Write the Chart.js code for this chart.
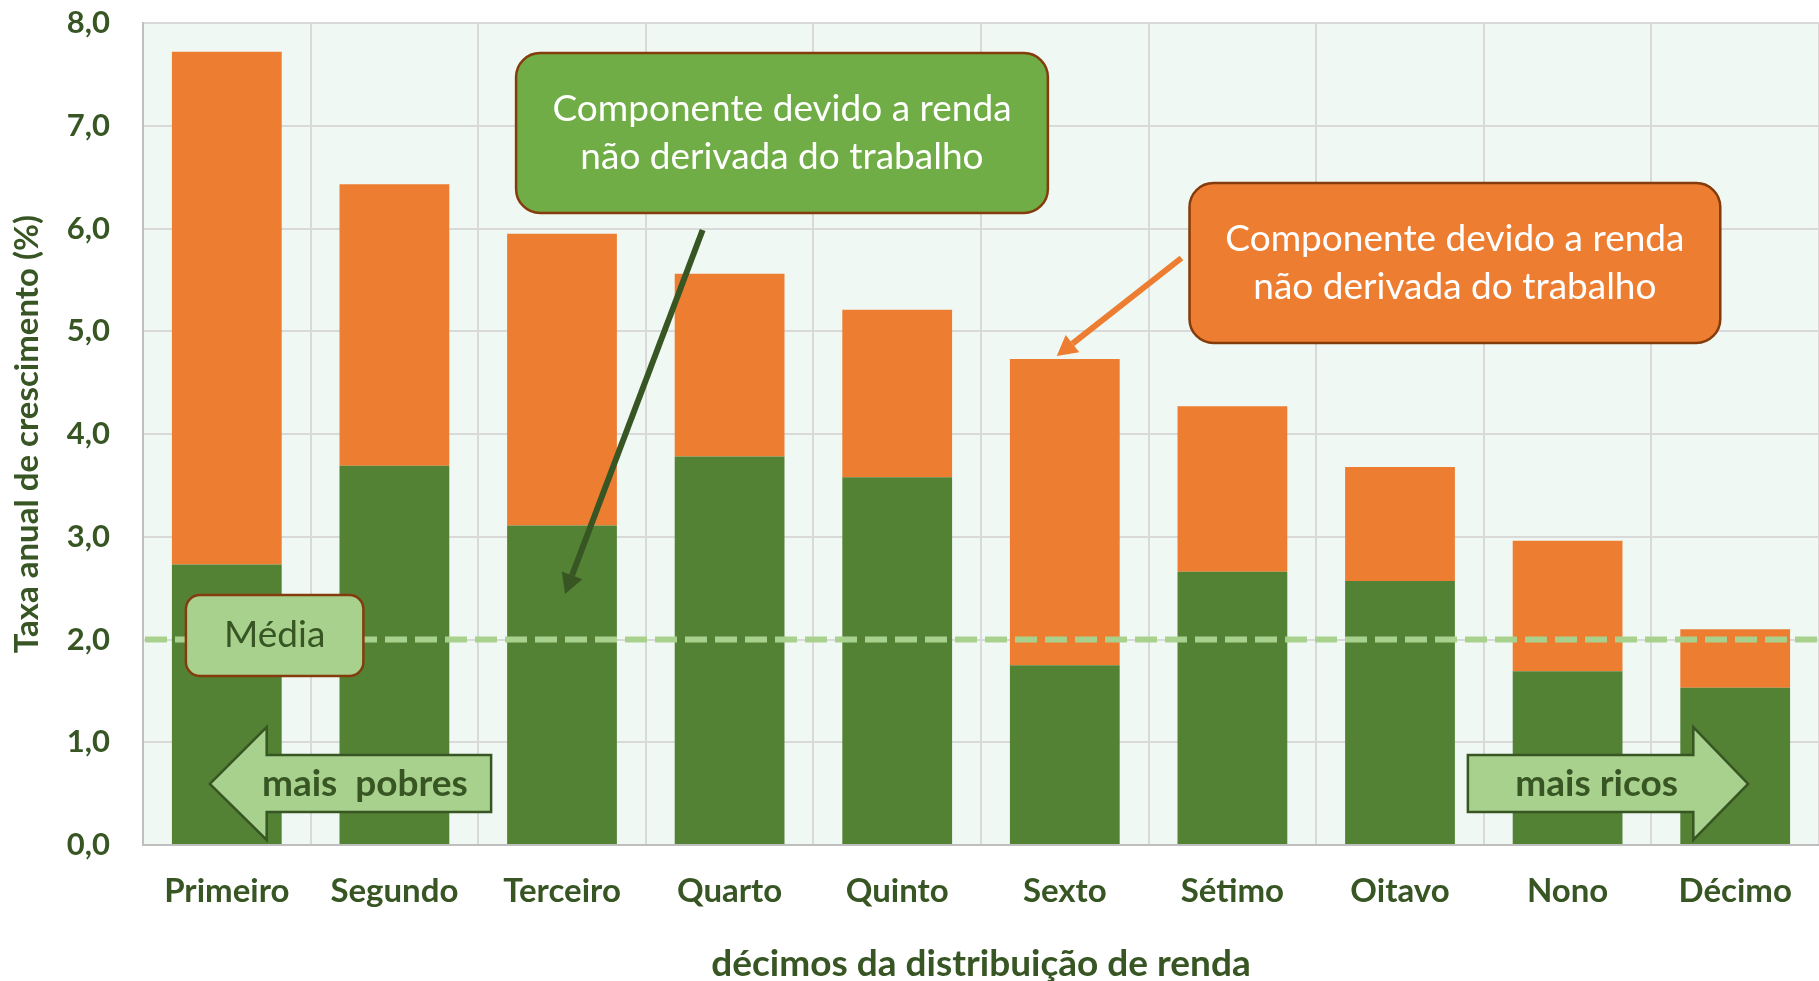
<!DOCTYPE html>
<html><head><meta charset="utf-8">
<script src="https://cdn.jsdelivr.net/npm/chart.js@4.4.0/dist/chart.umd.min.js"></script>
<style>html,body{margin:0;padding:0;background:#fff;overflow:hidden}#wrap{position:relative;width:1819px;height:981px}</style>
</head><body><div id="wrap"><canvas id="c" width="1819" height="981"></canvas></div>
<script>
// ---- data ----
const categories = ['Primeiro','Segundo','Terceiro','Quarto','Quinto','Sexto','Sétimo','Oitavo','Nono','Décimo'];
const laborComponent = [2.73,3.69,3.11,3.78,3.58,1.75,2.66,2.57,1.69,1.53];
const nonLaborComponent = [4.99,2.74,2.84,1.78,1.63,2.98,1.61,1.11,1.27,0.57];
const yTickValues = [0,1,2,3,4,5,6,7,8];
const yTickLabels = ['0,0','1,0','2,0','3,0','4,0','5,0','6,0','7,0','8,0'];
const mediaValue = [2.0];
const xTitle = 'décimos da distribuição de renda';
const yTitle = 'Taxa anual de crescimento (%)';
const calloutText = ['Componente devido a renda', 'não derivada do trabalho'];

// ---- styles ----
const FONT = 'Lato';
const DARK = '#375623';
const GREEN = '#548235';
const ORANGE = '#ED7D31';
const LIGHT = '#A9D18E';
const BROWN = '#843C0C';

// decoration anchors in data units (category index, value)
const deco = {
  greenBox: {x0:1.726, x1:4.899, y0:7.708, y1:6.151},
  orangeBox:{x0:5.744, x1:8.911, y0:6.443, y1:4.886},
  mediaBox: {x0:-0.244, x1:0.815, y0:2.433, y1:1.645},
  greenPtr: {x0:2.839, y0:5.985, x1:2.018, y1:2.443},
  orangePtr:{x0:5.696, y0:5.713, x1:4.952, y1:4.759},
  pobres: {tip:-0.101, base:0.238, end:1.577},
  ricos:  {tip:9.077, base:8.750, end:7.405},
  arrowY: {headTop:1.148, shaftTop:0.876, mid:0.594, shaftBot:0.321, headBot:0.049}
};

const decorPlugin = {
  id:'decor',
  beforeDraw(chart){
    const {ctx, chartArea:a} = chart;
    ctx.save();
    ctx.fillStyle = '#F0F8F3';
    ctx.fillRect(a.left, a.top, a.right-a.left, a.bottom-a.top);
    ctx.restore();
  },
  afterDatasetsDraw(chart){
    const {ctx, chartArea:a} = chart;
    const xs = chart.scales.x, ys = chart.scales.y;
    const X = v => xs.getPixelForValue(v);
    const Y = v => ys.getPixelForValue(v);
    ctx.save();
    // average dashed line
    ctx.strokeStyle = LIGHT; ctx.lineWidth = 6; ctx.setLineDash([22,8]);
    ctx.beginPath(); ctx.moveTo(a.left+2, Y(mediaValue[0])); ctx.lineTo(a.right, Y(mediaValue[0])); ctx.stroke();
    ctx.setLineDash([]);

    function box(b, fill, r){
      const x0=X(b.x0), x1=X(b.x1), y0=Y(b.y0), y1=Y(b.y1);
      ctx.beginPath(); ctx.roundRect(x0,y0,x1-x0,y1-y0,r);
      ctx.fillStyle=fill; ctx.fill();
      ctx.lineWidth=2.5; ctx.strokeStyle=BROWN; ctx.stroke();
      return {cx:(x0+x1)/2, cy:(y0+y1)/2};
    }
    function pointer(p, color){
      const x0=X(p.x0), y0=Y(p.y0), x1=X(p.x1), y1=Y(p.y1);
      const ang=Math.atan2(y1-y0,x1-x0), L=20, W=11;
      const bx=x1-L*Math.cos(ang), by=y1-L*Math.sin(ang);
      ctx.strokeStyle=color; ctx.lineWidth=6; ctx.lineCap='butt';
      ctx.beginPath(); ctx.moveTo(x0,y0); ctx.lineTo(bx,by); ctx.stroke();
      ctx.fillStyle=color; ctx.beginPath();
      ctx.moveTo(x1,y1);
      ctx.lineTo(bx+W*Math.sin(ang), by-W*Math.cos(ang));
      ctx.lineTo(bx-W*Math.sin(ang), by+W*Math.cos(ang));
      ctx.closePath(); ctx.fill();
    }
    function bigArrow(d, label, textCx){
      const A=deco.arrowY;
      ctx.beginPath();
      ctx.moveTo(X(d.tip), Y(A.mid));
      ctx.lineTo(X(d.base), Y(A.headTop));
      ctx.lineTo(X(d.base), Y(A.shaftTop));
      ctx.lineTo(X(d.end), Y(A.shaftTop));
      ctx.lineTo(X(d.end), Y(A.shaftBot));
      ctx.lineTo(X(d.base), Y(A.shaftBot));
      ctx.lineTo(X(d.base), Y(A.headBot));
      ctx.closePath();
      ctx.fillStyle=LIGHT; ctx.fill();
      ctx.strokeStyle=DARK; ctx.lineWidth=2.5; ctx.stroke();
      ctx.fillStyle=DARK; ctx.font='bold 37px '+FONT; ctx.textAlign='center'; ctx.textBaseline='middle';
      ctx.fillText(label, textCx, Y(A.mid));
    }

    // green callout + pointer
    const g = box(deco.greenBox, '#70AD47', 24);
    ctx.fillStyle='#FFFFFF'; ctx.font='37px '+FONT; ctx.textAlign='center'; ctx.textBaseline='middle';
    ctx.fillText(calloutText[0], g.cx, g.cy-24);
    ctx.fillText(calloutText[1], g.cx, g.cy+24);
    pointer(deco.greenPtr, DARK);

    // orange callout + pointer
    const o = box(deco.orangeBox, ORANGE, 24);
    ctx.fillStyle='#FFFFFF'; ctx.font='37px '+FONT;
    ctx.fillText(calloutText[0], o.cx, o.cy-24);
    ctx.fillText(calloutText[1], o.cx, o.cy+24);
    pointer(deco.orangePtr, ORANGE);

    // média box
    const m = box(deco.mediaBox, LIGHT, 14);
    ctx.fillStyle=DARK; ctx.font='37px '+FONT;
    ctx.fillText('Média', m.cx, m.cy);

    // big arrows
    bigArrow(deco.pobres, 'mais  pobres', (X(deco.pobres.base)+X(deco.pobres.end))/2 - 14);
    bigArrow(deco.ricos, 'mais ricos', (X(deco.ricos.base)+X(deco.ricos.end))/2 + 16);
    ctx.restore();
  }
};

new Chart(document.getElementById('c'), {
  type:'bar',
  data:{
    labels:categories,
    datasets:[
      {label:'Renda do trabalho', data:laborComponent, backgroundColor:GREEN, categoryPercentage:1, barPercentage:0.655},
      {label:'Renda não derivada do trabalho', data:nonLaborComponent, backgroundColor:ORANGE, categoryPercentage:1, barPercentage:0.655}
    ]
  },
  plugins:[decorPlugin],
  options:{
    responsive:false, animation:false, devicePixelRatio:1,
    layout:{padding:{top:23,right:0,left:0,bottom:0}},
    plugins:{legend:{display:false}, tooltip:{enabled:false}},
    scales:{
      x:{
        stacked:true, offset:true,
        grid:{offset:true, color:'#D9D9D9', lineWidth:2, drawTicks:false},
        border:{color:'#BFBFBF', width:2},
        ticks:{color:DARK, font:{family:FONT, size:33, weight:'bold'}, padding:27, maxRotation:0},
        title:{display:true, text:xTitle, color:DARK, font:{family:FONT, size:37, weight:'bold'}, padding:{top:0,bottom:-5}},
        afterFit(s){ s.height = 136; s.paddingLeft = 0; s.paddingRight = 0; }
      },
      y:{
        stacked:true, min:0, max:8,
        afterBuildTicks(s){ s.ticks = yTickValues.map(v=>({value:v})); },
        ticks:{color:DARK, font:{family:FONT, size:31, weight:'bold'}, padding:33, callback:(v,i)=>yTickLabels[i]},
        grid:{color:'#D9D9D9', lineWidth:2, drawTicks:false},
        border:{color:'#BFBFBF', width:2},
        title:{display:true, text:yTitle, color:DARK, font:{family:FONT, size:33, weight:'bold'}, padding:{top:8,bottom:0}},
        afterFit(s){ s.width = 143; s.paddingTop = 0; s.paddingBottom = 0; }
      }
    }
  }
});
</script></body></html>
